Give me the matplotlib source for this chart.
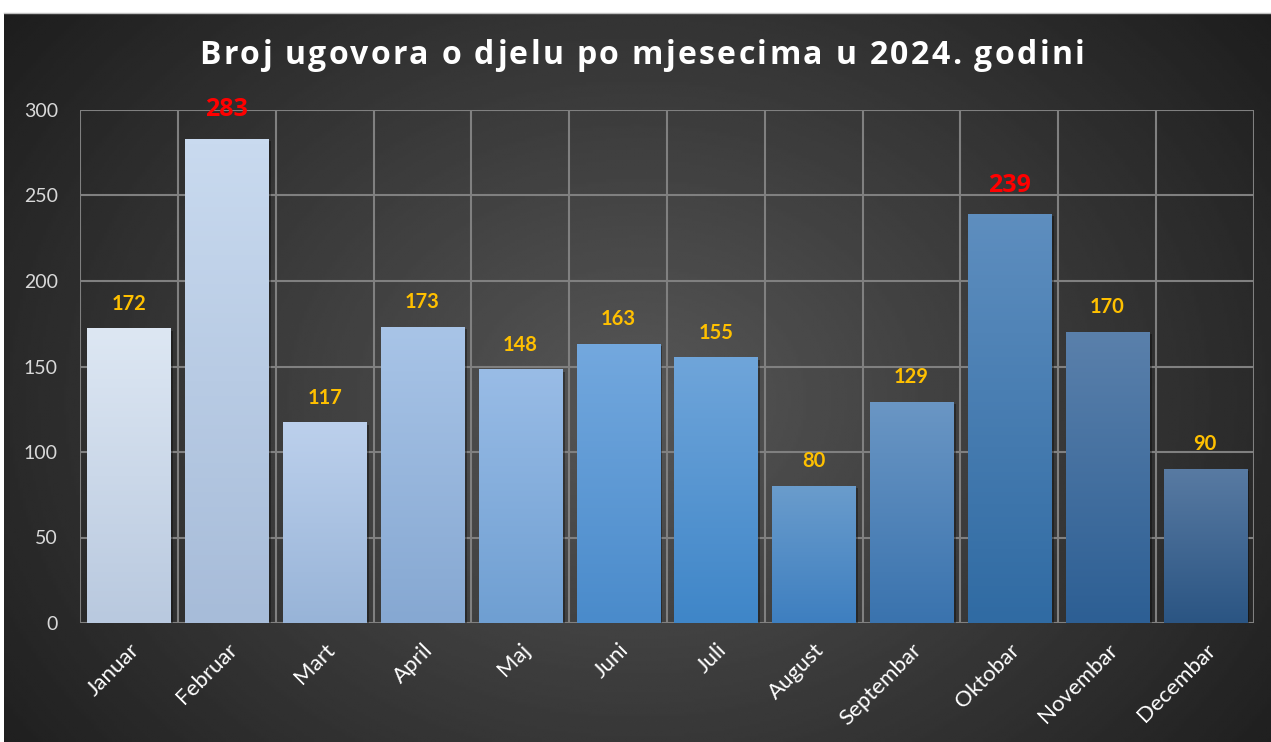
import numpy as np
import matplotlib.pyplot as plt
from matplotlib import patheffects as pe
from matplotlib.colors import LinearSegmentedColormap
from matplotlib.font_manager import FontProperties
from matplotlib.lines import Line2D

plt.rcParams['font.family'] = ['Lato', 'DejaVu Sans']

# data
title = 'Broj ugovora o djelu po mjesecima u 2024. godini'
months = ['Januar', 'Februar', 'Mart', 'April', 'Maj', 'Juni', 'Juli',
          'August', 'Septembar', 'Oktobar', 'Novembar', 'Decembar']
contracts = [172, 283, 117, 173, 148, 163, 155, 80, 129, 239, 170, 90]
highlight = ['Februar', 'Oktobar']

# per-bar gradient colours (top, bottom)
bar_top = ['#dde7f3', '#c9daef', '#bcd0ec', '#a8c4e7', '#99bce6', '#73a8de',
           '#6fa5da', '#6a9ccc', '#6a96c4', '#5e8ebf', '#5a80ab', '#587aa2']
bar_bottom = ['#b9c9df', '#a7bcd9', '#98b4d8', '#86a8d2', '#6f9fd2', '#4a8bcb',
              '#3f86c8', '#3e7fc0', '#3a73ae', '#306ba3', '#2d5f94', '#2b5583']

W, H = 1271, 742
fig = plt.figure(figsize=(W / 100, H / 100), dpi=100)
fig.patch.set_facecolor('white')

# dark panel with soft radial light
bg = fig.add_axes([4 / W, 0, 1 - 4 / W, (H - 13) / H])
yy, xx = np.mgrid[0:1:300j, 0:1:500j]
r = np.sqrt(((xx - 0.5) / 0.55) ** 2 + ((yy - 0.53) / 0.75) ** 2)
shade = np.clip(0.34 - 0.195 * r, 0.1, 1)
bg.imshow(shade, cmap='gray', vmin=0, vmax=1, aspect='auto',
          extent=[0, 1, 0, 1], interpolation='bilinear')
bg.set_axis_off()
fig.add_artist(Line2D([4 / W, 1], [(H - 13) / H] * 2, color='#bfbfbf', lw=1))

ax = fig.add_axes([80 / W, (H - 623) / H, (1254 - 80) / W, (623 - 110) / H])
ax.patch.set_alpha(0)
x = np.arange(len(months))
bars = ax.bar(x, contracts, width=0.85, color=bar_bottom, zorder=2)
for b, top, bot in zip(bars, bar_top, bar_bottom):
    b.set_path_effects([pe.SimplePatchShadow(offset=(2, -1.5), shadow_rgbFace='black', alpha=0.35),
                        pe.Normal()])
    cmap = LinearSegmentedColormap.from_list('g', [bot, top])
    grad = np.linspace(0, 1, 100)[:, None]
    ax.imshow(grad, cmap=cmap, origin='lower', aspect='auto', zorder=3,
              extent=[b.get_x(), b.get_x() + b.get_width(), 0, b.get_height()])

for xi, v, m in zip(x, contracts, months):
    if m in highlight:
        ax.annotate(str(v), (xi, v), xytext=(0, 21), textcoords='offset points',
                    ha='center', va='center', color='#ff0000', fontsize=18,
                    fontweight='bold', family=['Open Sans', 'DejaVu Sans'])
    else:
        ax.annotate(str(v), (xi, v), xytext=(0, 18), textcoords='offset points',
                    ha='center', va='center', color='#ffc000', fontsize=14.5, fontweight='bold')

ax.set_xlim(-0.5, len(months) - 0.5)
ax.set_ylim(0, 300)
ax.set_yticks(range(0, 301, 50))
ax.set_xticks(x)
ax.set_xticks(np.arange(-0.5, len(months), 1), minor=True)
ax.set_xticklabels(months, rotation=45, ha='right', rotation_mode='anchor')
ax.grid(axis='y', which='major', color='#808080', lw=1.5, zorder=1)
ax.grid(axis='x', which='minor', color='#808080', lw=1.5, zorder=1)
ax.set_axisbelow(True)
for s in ax.spines.values():
    s.set_visible(False)
ax.tick_params(axis='both', which='both', length=0)
ax.tick_params(axis='y', colors='#d9d9d9', labelsize=14, pad=16)
ax.tick_params(axis='x', colors='white', labelsize=16, pad=12)

# title with letter spacing, drawn character by character
prop = FontProperties(family='Open Sans', weight='bold', size=23)
rend = fig.canvas.get_renderer()
def text_w(s):
    return rend.get_text_width_height_descent(s, prop, ismath=False)[0]
target_w = 885
gap = (target_w - text_w(title)) / (len(title) - 1)
x0 = 642 - target_w / 2
for i, ch in enumerate(title):
    if ch == ' ':
        continue
    left = text_w(title[:i + 1]) - text_w(ch) + gap * i
    fig.text((x0 + left) / W, (H - 55) / H, ch, ha='left', va='center',
             color='white', fontproperties=prop)

fig.savefig('out.png', dpi=100, facecolor=fig.get_facecolor())
